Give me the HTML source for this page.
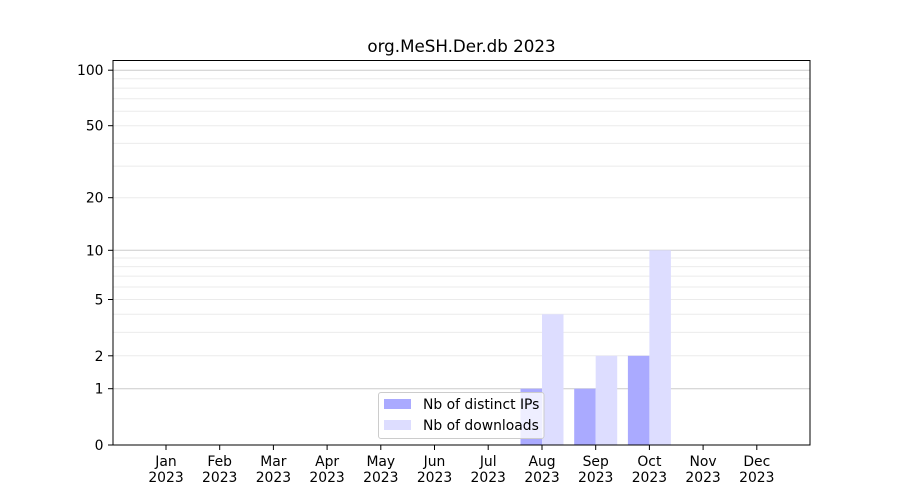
<!DOCTYPE html>
<html>
<head>
<meta charset="utf-8">
<style>
html,body{margin:0;padding:0;background:#fff;}
svg{display:block;}
text{font-family:"DejaVu Sans","Liberation Sans",sans-serif;fill:#000;}
</style>
</head>
<body>
<svg width="900" height="500" viewBox="0 0 900 500" xmlns="http://www.w3.org/2000/svg">
<rect x="0" y="0" width="900" height="500" fill="#fff"/>
<!-- minor gridlines -->
<g stroke="#ebebeb" stroke-width="1">
<line x1="113" x2="810" y1="355.8" y2="355.8"/>
<line x1="113" x2="810" y1="332.4" y2="332.4"/>
<line x1="113" x2="810" y1="314.3" y2="314.3"/>
<line x1="113" x2="810" y1="299.5" y2="299.5"/>
<line x1="113" x2="810" y1="287.0" y2="287.0"/>
<line x1="113" x2="810" y1="276.1" y2="276.1"/>
<line x1="113" x2="810" y1="266.6" y2="266.6"/>
<line x1="113" x2="810" y1="258.0" y2="258.0"/>
<line x1="113" x2="810" y1="197.7" y2="197.7"/>
<line x1="113" x2="810" y1="166.1" y2="166.1"/>
<line x1="113" x2="810" y1="143.4" y2="143.4"/>
<line x1="113" x2="810" y1="125.7" y2="125.7"/>
<line x1="113" x2="810" y1="111.2" y2="111.2"/>
<line x1="113" x2="810" y1="98.8" y2="98.8"/>
<line x1="113" x2="810" y1="88.1" y2="88.1"/>
<line x1="113" x2="810" y1="78.7" y2="78.7"/>
</g>
<!-- major gridlines -->
<g stroke="#cccccc" stroke-width="1">
<line x1="113" x2="810" y1="388.7" y2="388.7"/>
<line x1="113" x2="810" y1="250.3" y2="250.3"/>
<line x1="113" x2="810" y1="70.2" y2="70.2"/>
</g>
<!-- bars -->
<g fill="#aaaaff">
<rect x="520.5" y="388.7" width="21.5" height="56.3"/>
<rect x="574.2" y="388.7" width="21.5" height="56.3"/>
<rect x="627.9" y="355.8" width="21.5" height="89.2"/>
</g>
<g fill="#ddddff">
<rect x="542" y="314.3" width="21.5" height="130.7"/>
<rect x="595.7" y="355.8" width="21.5" height="89.2"/>
<rect x="649.4" y="250.3" width="21.5" height="194.7"/>
</g>
<!-- legend -->
<rect x="378.5" y="392.5" width="165.5" height="46" rx="2.5" ry="2.5" fill="#fff" fill-opacity="0.8" stroke="#cccccc" stroke-width="1"/>
<rect x="384" y="399" width="27" height="10" fill="#aaaaff"/>
<rect x="384" y="420" width="27" height="10" fill="#ddddff"/>
<text x="423" y="409" font-size="13.9">Nb of distinct IPs</text>
<text x="423" y="430" font-size="13.9">Nb of downloads</text>
<!-- axes spines -->
<rect x="113" y="60.5" width="697" height="384.5" fill="none" stroke="#000" stroke-width="1"/>
<!-- y ticks -->
<g stroke="#000" stroke-width="1">
<line x1="108" x2="113" y1="445" y2="445"/>
<line x1="108" x2="113" y1="388.7" y2="388.7"/>
<line x1="108" x2="113" y1="355.8" y2="355.8"/>
<line x1="108" x2="113" y1="299.5" y2="299.5"/>
<line x1="108" x2="113" y1="250.3" y2="250.3"/>
<line x1="108" x2="113" y1="197.7" y2="197.7"/>
<line x1="108" x2="113" y1="125.7" y2="125.7"/>
<line x1="108" x2="113" y1="70.2" y2="70.2"/>
</g>
<g font-size="13.9" text-anchor="end">
<text x="103.5" y="450">0</text>
<text x="103.5" y="393.7">1</text>
<text x="103.5" y="360.8">2</text>
<text x="103.5" y="304.5">5</text>
<text x="103.5" y="255.3">10</text>
<text x="103.5" y="202.7">20</text>
<text x="103.5" y="130.7">50</text>
<text x="103.5" y="75.2">100</text>
</g>
<!-- x ticks -->
<g stroke="#000" stroke-width="1">
<line x1="166" x2="166" y1="445" y2="450"/>
<line x1="219.7" x2="219.7" y1="445" y2="450"/>
<line x1="273.4" x2="273.4" y1="445" y2="450"/>
<line x1="327.1" x2="327.1" y1="445" y2="450"/>
<line x1="380.8" x2="380.8" y1="445" y2="450"/>
<line x1="434.5" x2="434.5" y1="445" y2="450"/>
<line x1="488.2" x2="488.2" y1="445" y2="450"/>
<line x1="542" x2="542" y1="445" y2="450"/>
<line x1="595.7" x2="595.7" y1="445" y2="450"/>
<line x1="649.4" x2="649.4" y1="445" y2="450"/>
<line x1="703.1" x2="703.1" y1="445" y2="450"/>
<line x1="756.8" x2="756.8" y1="445" y2="450"/>
</g>
<g font-size="13.9" text-anchor="middle">
<text x="166" y="466">Jan</text><text x="166" y="482">2023</text>
<text x="219.7" y="466">Feb</text><text x="219.7" y="482">2023</text>
<text x="273.4" y="466">Mar</text><text x="273.4" y="482">2023</text>
<text x="327.1" y="466">Apr</text><text x="327.1" y="482">2023</text>
<text x="380.8" y="466">May</text><text x="380.8" y="482">2023</text>
<text x="434.5" y="466">Jun</text><text x="434.5" y="482">2023</text>
<text x="488.2" y="466">Jul</text><text x="488.2" y="482">2023</text>
<text x="542" y="466">Aug</text><text x="542" y="482">2023</text>
<text x="595.7" y="466">Sep</text><text x="595.7" y="482">2023</text>
<text x="649.4" y="466">Oct</text><text x="649.4" y="482">2023</text>
<text x="703.1" y="466">Nov</text><text x="703.1" y="482">2023</text>
<text x="756.8" y="466">Dec</text><text x="756.8" y="482">2023</text>
</g>
<!-- title -->
<text x="461.5" y="52" font-size="16.7" text-anchor="middle">org.MeSH.Der.db 2023</text>
</svg>
</body>
</html>
